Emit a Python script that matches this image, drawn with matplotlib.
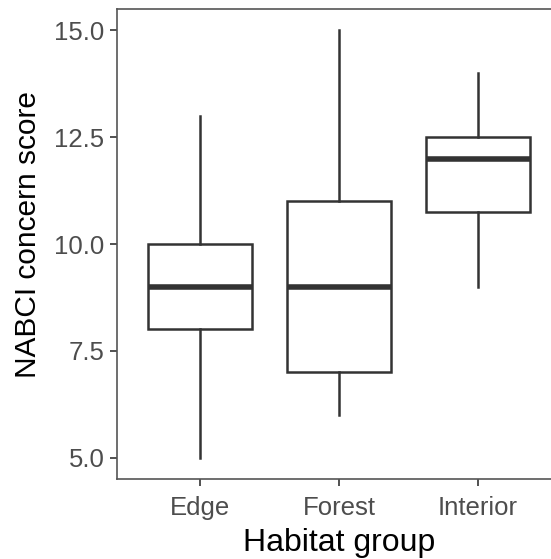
import matplotlib.pyplot as plt

plt.rcParams['font.family'] = ['Liberation Sans', 'DejaVu Sans']

# summary statistics per habitat group
groups = ['Edge', 'Forest', 'Interior']
lower_whisker = [5.0, 6.0, 9.0]
q1 = [8.0, 7.0, 10.75]
median = [9.0, 9.0, 12.0]
q3 = [10.0, 11.0, 12.5]
upper_whisker = [13.0, 15.0, 14.0]
y_ticks = [5.0, 7.5, 10.0, 12.5, 15.0]

stats = []
for i, g in enumerate(groups):
    stats.append({'label': g, 'whislo': lower_whisker[i], 'q1': q1[i],
                  'med': median[i], 'q3': q3[i], 'whishi': upper_whisker[i],
                  'fliers': []})

fig = plt.figure(figsize=(5.51, 5.59), dpi=100)
ax = fig.add_axes([117 / 551, 1 - 479 / 559, 444 / 551, 470 / 559])

line_col = '#333333'
ax.bxp(stats, positions=[1, 2, 3], widths=0.75, showcaps=False,
       patch_artist=True,
       boxprops=dict(facecolor='white', edgecolor=line_col, linewidth=1.8),
       whiskerprops=dict(color=line_col, linewidth=1.8),
       medianprops=dict(color=line_col, linewidth=4.0, solid_capstyle='butt'))

ax.set_xlim(0.4, 3.6)
ax.set_ylim(4.5, 15.5)
ax.set_yticks(y_ticks)
ax.set_yticklabels([f'{v:.1f}' for v in y_ticks])

for s in ax.spines.values():
    s.set_color('#555555')
    s.set_linewidth(1.2)

ax.tick_params(axis='both', colors='#333333', labelcolor='#4d4d4d',
               labelsize=18.5, length=5, width=1.2)
ax.tick_params(axis='y', pad=4)
ax.tick_params(axis='x', pad=7)

ax.set_xlabel('Habitat group', fontsize=23, color='black', labelpad=6)
ax.set_ylabel('NABCI concern score', fontsize=21.5, color='black')
ax.yaxis.set_label_coords(-0.168, 0.52)

fig.savefig('out.png', dpi=100)
